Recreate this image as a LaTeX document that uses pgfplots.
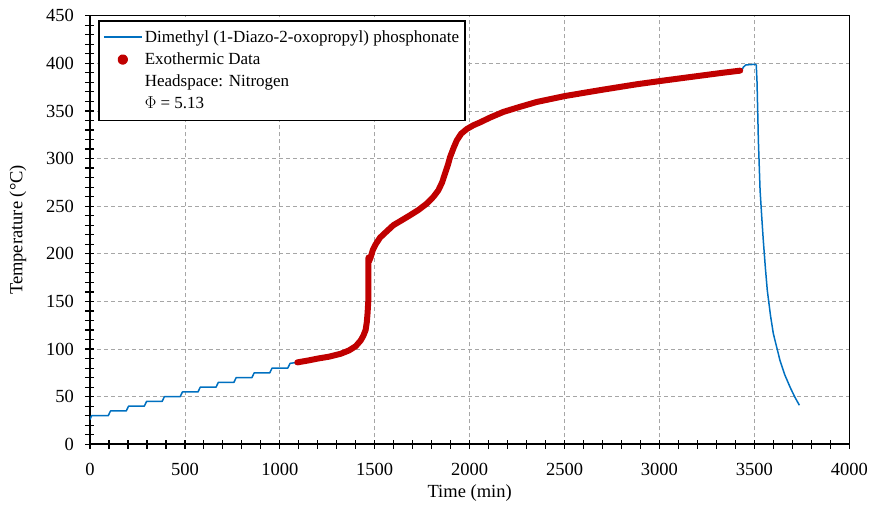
\documentclass[border=0pt]{standalone}
\usepackage{fontspec}
\setmainfont{Liberation Serif}
\usepackage{pgfplots}
\pgfplotsset{compat=1.18}
\definecolor{bluec}{HTML}{0070C0}
\definecolor{redc}{HTML}{C00000}
\definecolor{gridc}{HTML}{A6A6A6}
\begin{document}
\begin{tikzpicture}[font=\fontsize{18.5}{22}\selectfont]
\useasboundingbox (-90pt,-60.7pt) rectangle (781pt,444.3pt);
\begin{axis}[
  scale only axis,
  width=759.3pt, height=428.6pt,
  at={(0,0)}, anchor=south west,
  xmin=0, xmax=4000, ymin=0, ymax=450,
  xtick={0,500,...,4000}, ytick={0,50,...,450},
  minor x tick num=4, minor y tick num=4,
  xtick pos=bottom, ytick pos=left,
  tick align=center,
  major tick length=9pt, minor tick length=9pt,
  every tick/.style={black, line width=1.2pt},
  axis line style={line width=1.6pt},
  grid=major,
  major grid style={gridc, line width=0.8pt, dash pattern=on 4pt off 3pt},
  /pgf/number format/assume math mode=true,
  /pgf/number format/1000 sep={},
  tick label style={font=\fontsize{18.5}{22}\selectfont},
  xticklabel style={yshift=-11pt},
  yticklabel style={xshift=-8pt},
  xlabel={Time (min)}, ylabel={Temperature (°C)},
  xlabel style={at={(axis description cs:0.5,0)}, anchor=center, yshift=-48.7pt},
  ylabel style={at={(axis description cs:-0.0948,0.5)}, anchor=center},
  legend style={at={(axis cs:0,450)}, anchor=north west, xshift=8pt, yshift=-4.3pt,
    draw=black, line width=1.6pt, inner xsep=4pt, inner ysep=8pt, row sep=4.8pt,
    nodes={inner sep=2pt, line width=0.4pt}, font=\fontsize{17}{20}\selectfont},
  legend cell align=left,
]
\addplot[bluec, line width=1.5pt, line join=round,
  legend image code/.code={\draw[bluec, line width=2pt] (0pt,0pt) -- (38pt,0pt);}]
coordinates {
(0,26) (8,30) (96,30) (108,35) (191,35) (203,40) (286,40) (298,45) (380,45) (392,50)
(475,50) (487,55) (569,55) (581,60) (664,60) (676,65) (758,65) (770,70) (853,70) (865,75)
(947,75) (959,80) (1042,80) (1054,85) (1092,86)
(1150,88) (1200,90) (1260,92) (1320,95) (1365,98.6) (1400,103) (1426,109) (1440,114)
(1452,120) (1458,128) (1462,137) (1466,150) (1467,175) (1467,196) (1470,192) (1478,196)
(1490,204) (1505,210) (1528,217) (1560,223) (1598,230) (1640,235) (1686,240.5) (1730,246)
(1774,252.7) (1810,260) (1835,266.6) (1855,275) (1870,284) (1885,293) (1897,301.6)
(1915,311) (1932,319) (1955,326) (1985,331) (2020,335) (2055,338) (2107,343) (2178,349)
(2260,354) (2353,359.4) (2503,365.7) (2704,372.4) (2880,378) (3003,381.4) (3120,384.5)
(3231,387.4) (3330,390) (3425,392.3)
(3435,393) (3442,396) (3455,398.3) (3505,399) (3510,398) (3514,380) (3518,345) (3521,319)
(3530,266.7) (3540,235) (3547,214) (3558,185) (3568,161.7) (3585,135) (3600,116)
(3620,100) (3635,88) (3660,73) (3688,60) (3712,50) (3737,41)
};
\addlegendentry{Dimethyl (1-Diazo-2-oxopropyl) phosphonate}
\addplot[redc, line width=6pt, line cap=round, line join=round,
  legend image code/.code={\fill[redc] (19pt,0pt) circle (2.2pt);}]
coordinates {
(1092,86)
(1150,88) (1200,90) (1260,92) (1320,95) (1365,98.6) (1400,103) (1426,109) (1440,114)
(1452,120) (1458,128) (1462,137) (1466,150) (1467,175) (1467,196) (1470,192) (1478,196)
(1490,204) (1505,210) (1528,217) (1560,223) (1598,230) (1640,235) (1686,240.5) (1730,246)
(1774,252.7) (1810,260) (1835,266.6) (1855,275) (1870,284) (1885,293) (1897,301.6)
(1915,311) (1932,319) (1955,326) (1985,331) (2020,335) (2055,338) (2107,343) (2178,349)
(2260,354) (2353,359.4) (2503,365.7) (2704,372.4) (2880,378) (3003,381.4) (3120,384.5)
(3231,387.4) (3330,390) (3425,392.3)
};
\addlegendentry{Exothermic Data}
\addlegendimage{empty legend}
\addlegendentry{Headspace: Nitrogen}
\addlegendimage{empty legend}
\addlegendentry{$\Phi$ = 5.13}
\end{axis}
\end{tikzpicture}
\end{document}
